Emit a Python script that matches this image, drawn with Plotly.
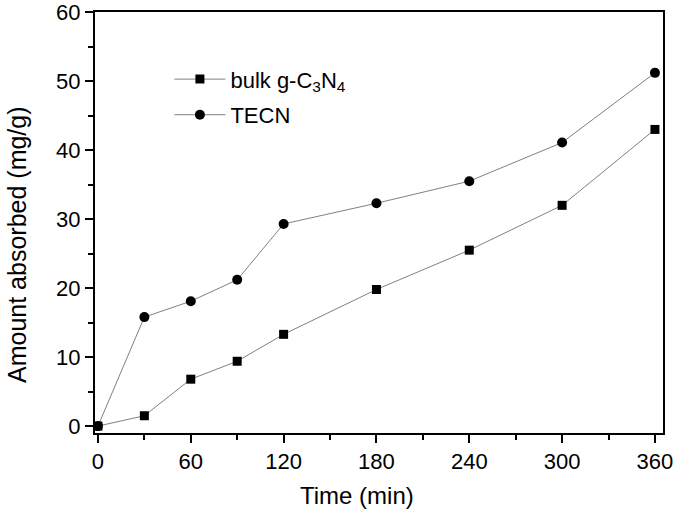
import plotly.graph_objects as go

time = [0, 30, 60, 90, 120, 180, 240, 300, 360]
bulk = [0.0, 1.5, 6.8, 9.4, 13.3, 19.8, 25.5, 32.0, 43.0]
tecn = [0.0, 15.8, 18.1, 21.2, 29.3, 32.3, 35.5, 41.1, 51.2]

FONT = "Liberation Sans, Arial, sans-serif"

fig = go.Figure()
fig.add_trace(go.Scatter(x=time, y=bulk, mode="lines+markers",
                         name="bulk g-C<sub>3</sub>N<sub>4</sub>", legendgroup="a",
                         line=dict(color="#808080", width=1),
                         marker=dict(symbol="square", size=9, color="black")))
fig.add_trace(go.Scatter(x=time, y=tecn, mode="lines+markers",
                         name="TECN", legendgroup="b",
                         line=dict(color="#808080", width=1),
                         marker=dict(symbol="circle", size=10, color="black")))

axis_common = dict(showline=True, linecolor="black", linewidth=2, mirror=True,
                   ticks="outside", ticklen=8, tickwidth=2, tickcolor="black",
                   showgrid=False, zeroline=False, automargin=False,
                   ticklabeloverflow="allow",
                   tickfont=dict(family=FONT, size=22, color="black"))

fig.update_xaxes(range=[-1.9, 365.2], tickvals=[0, 60, 120, 180, 240, 300, 360],
                 minor=dict(dtick=30, tick0=0, ticks="outside", ticklen=5, tickwidth=1.5, tickcolor="black"),
                 **axis_common)
fig.update_yaxes(range=[-1.0, 60.02], tickvals=[0, 10, 20, 30, 40, 50, 60],
                 minor=dict(dtick=5, tick0=0, ticks="outside", ticklen=5, tickwidth=1.5, tickcolor="black"),
                 **axis_common)

fig.add_annotation(text="Time (min)", xref="paper", yref="paper", x=0.461, y=-0.149,
                   xanchor="center", yanchor="middle", showarrow=False,
                   font=dict(family=FONT, size=24, color="black"))
fig.add_annotation(text="Amount absorbed (mg/g)", xref="paper", yref="paper", x=-0.137, y=0.447,
                   xanchor="center", yanchor="middle", showarrow=False, textangle=-90,
                   font=dict(family=FONT, size=25, color="black"))

fig.update_layout(width=675, height=515, plot_bgcolor="white", paper_bgcolor="white",
                  margin=dict(l=95, r=12, t=12, b=82),
                  legend=dict(x=0.131, y=0.89, xanchor="left", yanchor="top",
                              bgcolor="rgba(0,0,0,0)", itemwidth=51, tracegroupgap=4,
                              font=dict(family=FONT, size=22, color="black")))

fig.write_html("out.html", config={"displayModeBar": False},
               post_script="document.body.style.margin='0px';")
